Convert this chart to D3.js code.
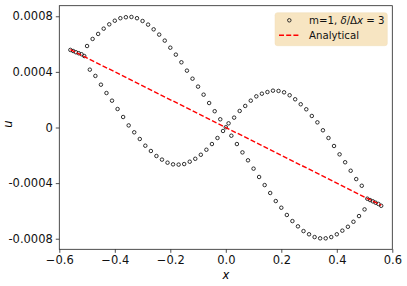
<!DOCTYPE html>
<html><head><meta charset="utf-8">
<script src="https://cdn.jsdelivr.net/npm/d3@7"></script>
<style>body{margin:0;background:#fff}svg{display:block}text{font-family:"DejaVu Sans",sans-serif}</style>
</head><body>
<script>
const xs = [-0.56,-0.55,-0.54,-0.53,-0.52,-0.51,-0.50,-0.49,-0.48,-0.47,-0.46,-0.45,-0.44,-0.43,-0.42,-0.41,-0.40,-0.39,-0.38,-0.37,-0.36,-0.35,-0.34,-0.33,-0.32,-0.31,-0.30,-0.29,-0.28,-0.27,-0.26,-0.25,-0.24,-0.23,-0.22,-0.21,-0.20,-0.19,-0.18,-0.17,-0.16,-0.15,-0.14,-0.13,-0.12,-0.11,-0.10,-0.09,-0.08,-0.07,-0.06,-0.05,-0.04,-0.03,-0.02,-0.01,0.00,0.01,0.02,0.03,0.04,0.05,0.06,0.07,0.08,0.09,0.10,0.11,0.12,0.13,0.14,0.15,0.16,0.17,0.18,0.19,0.20,0.21,0.22,0.23,0.24,0.25,0.26,0.27,0.28,0.29,0.30,0.31,0.32,0.33,0.34,0.35,0.36,0.37,0.38,0.39,0.40,0.41,0.42,0.43,0.44,0.45,0.46,0.47,0.48,0.49,0.50,0.51,0.52,0.53,0.54,0.55,0.56];
const us = [0.000558,0.000550,0.000541,0.000534,0.000527,0.000514,
0.000586,0.000416,0.000637,0.000371,0.000673,0.000308,0.000711,0.000248,0.000742,0.000193,
0.000768,0.000133,0.000786,0.0000755,0.000793,0.000015,0.000795,-0.0000345,0.000786,-0.0000827,
0.000766,-0.000131,0.000740,-0.000169,0.000706,-0.000205,0.000668,-0.000231,0.000625,-0.000253,
0.000574,-0.000265,0.000524,-0.000267,0.000469,-0.000263,0.000409,-0.000246,0.000351,-0.000225,
0.000294,-0.000196,0.000236,-0.000160,0.000176,-0.000119,0.000117,-0.0000755,0.000059,-0.000025,
0.000002,0.000030,-0.000059,0.000071,-0.000119,0.000119,-0.000179,0.000155,-0.000236,0.000193,
-0.000296,0.000224,-0.000356,0.000243,-0.000414,0.000255,-0.000471,0.000265,-0.000529,0.000263,
-0.000577,0.000253,-0.000629,0.000232,-0.000673,0.000203,-0.000711,0.000167,-0.000745,0.000131,
-0.000768,0.000083,-0.000788,0.000037,-0.000797,-0.000020,-0.000797,-0.0000755,-0.000788,-0.000133,
-0.000768,-0.000193,-0.000742,-0.000250,-0.000714,-0.000311,-0.000678,-0.000371,-0.000637,-0.000419,
-0.000589,-0.000512,-0.000522,-0.000531,-0.000541,-0.000550,-0.000563];
const analyticX = [-0.56, 0.56];
const analyticU = [0.00056, -0.00056];
const xTicks = [-0.6,-0.4,-0.2,0.0,0.2,0.4,0.6];
const xTickLabels = ["\u22120.6","\u22120.4","\u22120.2","0.0","0.2","0.4","0.6"];
const yTicks = [0.0008,0.0004,0,-0.0004,-0.0008];
const yTickLabels = ["0.0008","0.0004","0","-0.0004","-0.0008"];

const W=407,H=286, L=59.3, R=392.3, T=5.7, B=249.3;
const svg=d3.select("body").append("svg").attr("width",W).attr("height",H);
const x=d3.scaleLinear().domain([-0.6,0.6]).range([L,R]);
const y=d3.scaleLinear().domain([-0.000876,0.000876]).range([B,T]);

// points
svg.append("g").selectAll("circle").data(xs.map((v,i)=>[v,us[i]])).join("circle")
  .attr("cx",d=>x(d[0])).attr("cy",d=>y(d[1])).attr("r",1.75)
  .attr("fill","none").attr("stroke","#1a1a1a").attr("stroke-width",0.9);

// analytical
svg.append("path").datum(analyticX.map((v,i)=>[v,analyticU[i]]))
  .attr("d",d3.line().x(d=>x(d[0])).y(d=>y(d[1])))
  .attr("fill","none").attr("stroke","#ff0000").attr("stroke-width",1.4).attr("stroke-dasharray","5,2.2");

// axes
const xa=svg.append("g").attr("transform",`translate(0,${B})`)
  .call(d3.axisBottom(x).tickValues(xTicks).tickFormat((d,i)=>xTickLabels[i]).tickSize(3.5).tickPadding(3));
const ya=svg.append("g").attr("transform",`translate(${L},0)`)
  .call(d3.axisLeft(y).tickValues(yTicks).tickFormat((d,i)=>yTickLabels[i]).tickSize(3.5).tickPadding(3));
[xa,ya].forEach(a=>{a.select(".domain").remove();a.selectAll("line").attr("stroke","#222").attr("stroke-width",0.8);
  a.selectAll("text").attr("font-size","11.5px").attr("fill","#111").attr("font-family","DejaVu Sans");});
svg.append("rect").attr("x",L).attr("y",T).attr("width",R-L).attr("height",B-T)
  .attr("fill","none").attr("stroke","#222").attr("stroke-width",0.8);

// axis labels
svg.append("text").attr("x",(L+R)/2).attr("y",279).attr("text-anchor","middle")
  .attr("font-size","11.5px").attr("font-style","italic").text("x");
svg.append("text").attr("transform","translate(11.5,124) rotate(-90)").attr("text-anchor","middle")
  .attr("font-size","11.5px").attr("font-style","italic").text("u");

// legend
const lg=svg.append("g");
lg.append("rect").attr("x",275).attr("y",12.7).attr("width",112.3).attr("height",33).attr("rx",2.5)
  .attr("fill","#f5deb3").attr("fill-opacity",0.8).attr("stroke","#f0dcb8").attr("stroke-width",0.5);
lg.append("circle").attr("cx",289.3).attr("cy",20.3).attr("r",1.75).attr("fill","none").attr("stroke","#1a1a1a").attr("stroke-width",0.9);
lg.append("line").attr("x1",279).attr("x2",300).attr("y1",35.3).attr("y2",35.3)
  .attr("stroke","#ff0000").attr("stroke-width",1.4).attr("stroke-dasharray","5,2.2");
const t1=lg.append("text").attr("x",309).attr("y",24).attr("font-size","10.2px").attr("fill","#111");
t1.append("tspan").text("m=1, ");
t1.append("tspan").attr("font-style","italic").text("δ");
t1.append("tspan").text("/Δ");
t1.append("tspan").attr("font-style","italic").text("x");
t1.append("tspan").text(" = 3");
lg.append("text").attr("x",309).attr("y",38.8).attr("font-size","10.2px").attr("fill","#111").text("Analytical");
</script>
</body></html>
